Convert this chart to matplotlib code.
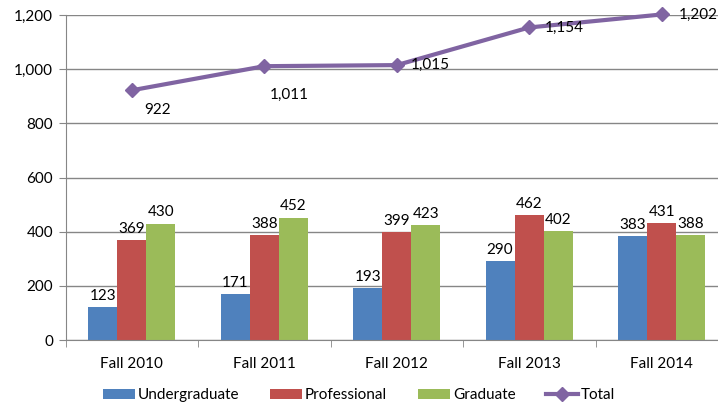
import matplotlib
matplotlib.use("Agg")
import matplotlib.pyplot as plt
import numpy as np
from matplotlib.ticker import FuncFormatter

plt.rcParams['font.family'] = ['Lato', 'DejaVu Sans']

categories = ["Fall 2010", "Fall 2011", "Fall 2012", "Fall 2013", "Fall 2014"]
undergraduate = [123, 171, 193, 290, 383]
professional = [369, 388, 399, 462, 431]
graduate = [430, 452, 423, 402, 388]
total = [922, 1011, 1015, 1154, 1202]

c_ug = "#4F81BD"
c_pr = "#C0504D"
c_gr = "#9BBB59"
c_tot = "#8064A2"

W, H = 718, 408
fig = plt.figure(figsize=(W/100, H/100), dpi=100)
left, right, top, bottom = 65.5, 728, 15, 340
ax = fig.add_axes([left/W, (H-bottom)/H, (right-left)/W, (bottom-top)/H])

x = np.arange(len(categories))
bw = 0.22
fs = 11
for off, vals, col, name in [(-bw, undergraduate, c_ug, "Undergraduate"),
                             (0, professional, c_pr, "Professional"),
                             (bw, graduate, c_gr, "Graduate")]:
    ax.bar(x + off, vals, width=bw, color=col, label=name, zorder=2)
    for xi, v in zip(x + off, vals):
        ax.annotate(f"{v:,}", (xi, v), xytext=(0, 3), textcoords="offset points",
                    ha="center", va="bottom", fontsize=fs, color="black")

ax.plot(x, total, color=c_tot, lw=3, marker="D", ms=7, label="Total",
        zorder=3, clip_on=False)
tot_offsets = [(9, -14), (4, -21), (10, 0), (11, 0), (12, 0)]
for xi, v, (dx, dy) in zip(x, total, tot_offsets):
    ax.annotate(f"{v:,}", (xi, v), xytext=(dx, dy), textcoords="offset points",
                ha="left", va="center", fontsize=fs, color="black",
                annotation_clip=False)

ax.set_xlim(-0.5, len(categories) - 0.5)
ax.set_ylim(0, 1200)
ax.set_yticks(range(0, 1201, 200))
ax.yaxis.set_major_formatter(FuncFormatter(lambda v, p: f"{int(v):,}"))
ax.set_xticks(x)
ax.set_xticklabels(categories)
ax.set_xticks(np.arange(-0.5, len(categories), 1), minor=True)
ax.tick_params(axis="x", which="major", length=0, pad=12, labelsize=fs)
ax.tick_params(axis="x", which="minor", length=5, color="#868686")
ax.tick_params(axis="y", length=5, color="#868686", labelsize=fs, pad=4)
ax.grid(axis="y", color="#868686", lw=1, zorder=0)
ax.set_axisbelow(True)
for s in ["top", "right"]:
    ax.spines[s].set_visible(False)
for s in ["left", "bottom"]:
    ax.spines[s].set_color("#868686")

h, l = ax.get_legend_handles_labels()
order = [1, 2, 3, 0]
fig.legend([h[i] for i in order], [l[i] for i in order], loc="center",
           bbox_to_anchor=(0.5, 13/H), ncol=4, frameon=False, fontsize=fs,
           handlelength=2.1, handleheight=0.65, handletextpad=0.2,
           columnspacing=2.0)

fig.savefig("out.png", dpi=100)
